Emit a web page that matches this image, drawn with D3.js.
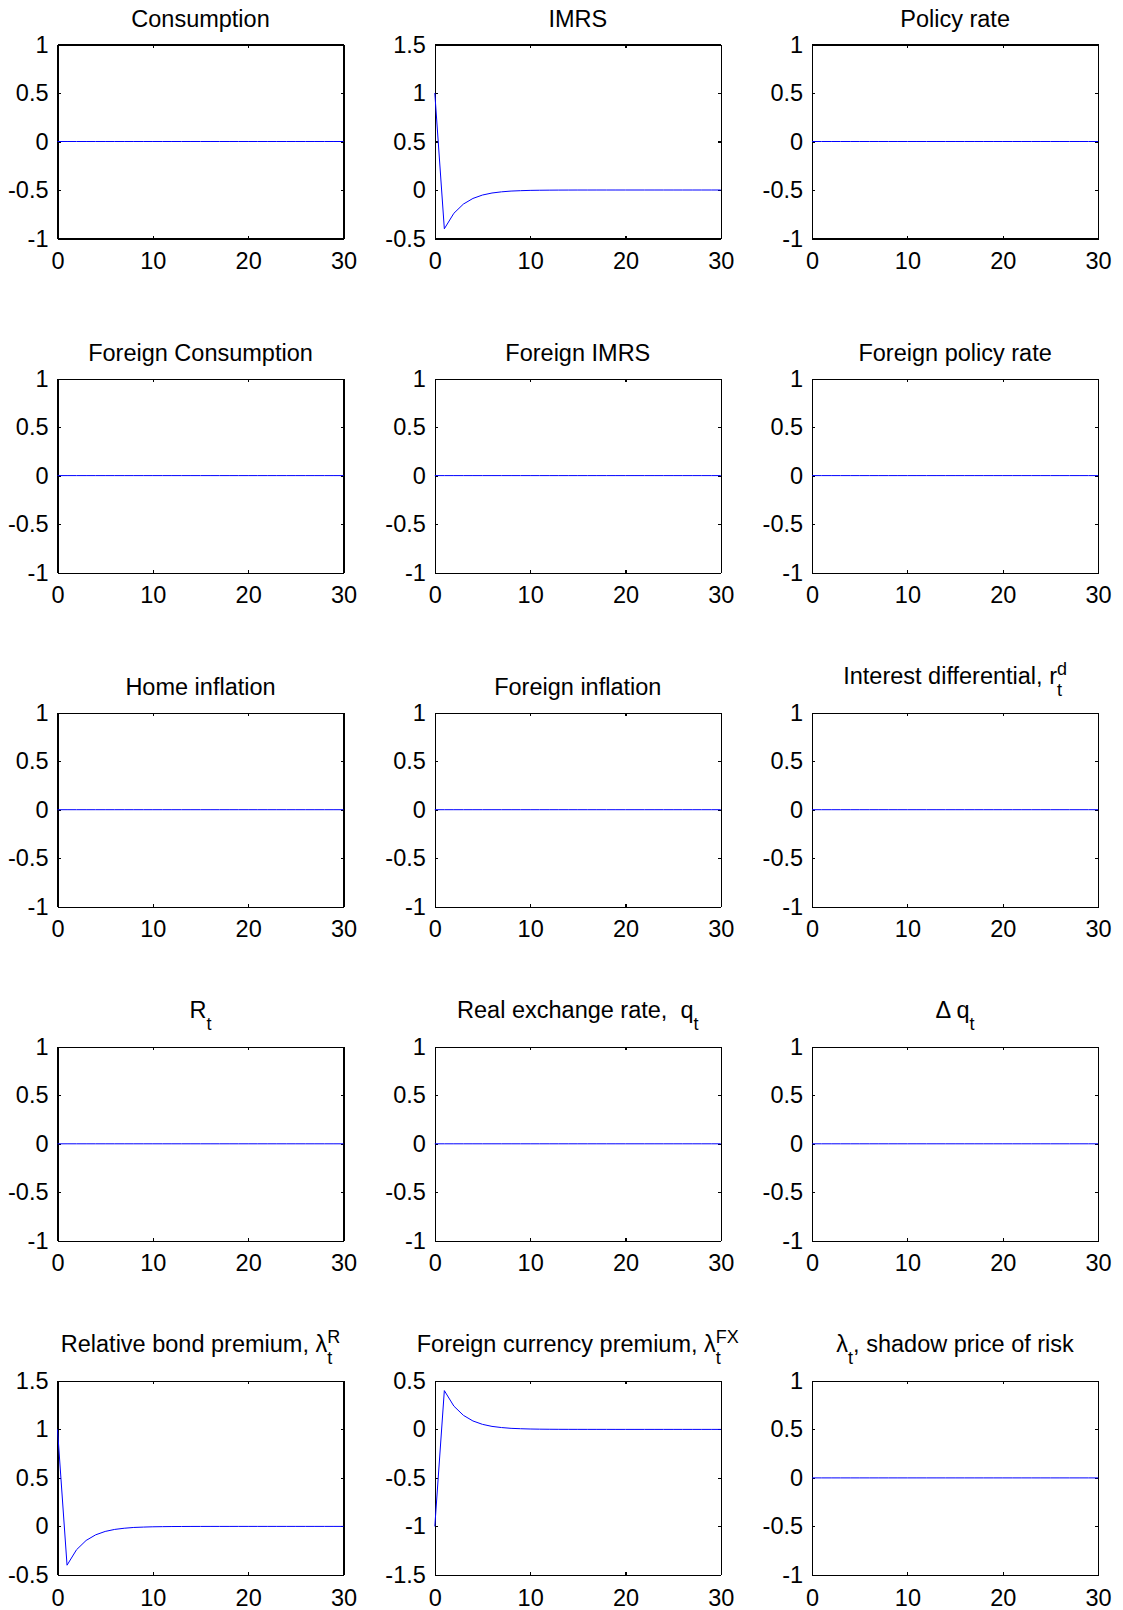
<!DOCTYPE html>
<html lang="en">

<head>
  <meta charset="UTF-8">
  <title>Impulse responses</title>
  <script src="https://d3js.org/d3.v7.min.js"></script>
  <style>
    body {
      margin: 0;
      background: #ffffff;
    }

    text {
      font-family: "Liberation Sans", Arial, Helvetica, sans-serif;
      fill: #000000;
    }

    .frame path.domain,
    .frame line {
      stroke: #000000;
      stroke-width: 1.1px;
      shape-rendering: crispEdges;
    }

    .irf {
      fill: none;
      stroke: #0000ff;
      stroke-width: 1px;
    }
  </style>
</head>

<body>
  <svg width="1123" height="1610"></svg>
  <script>
    // horizon 0..30
    const horizon = [0, 1, 2, 3, 4, 5, 6, 7, 8, 9, 10, 11, 12, 13, 14, 15, 16, 17, 18, 19, 20,
      21, 22, 23, 24, 25, 26, 27, 28, 29, 30];

    // flat responses
    const flat = [0, 0, 0, 0, 0, 0, 0, 0, 0, 0, 0, 0, 0, 0, 0, 0, 0, 0, 0, 0, 0,
      0, 0, 0, 0, 0, 0, 0, 0, 0, 0];

    // IMRS and relative bond premium
    const imrs = [1, -0.40, -0.24, -0.145, -0.087, -0.052, -0.031, -0.019, -0.011, -0.007, -0.004,
      -0.0025, -0.0015, -0.0009, -0.0005, -0.0003, -0.0002, -0.0001, -0.0001, 0, 0,
      0, 0, 0, 0, 0, 0, 0, 0, 0, 0];

    const bondPremium = [1, -0.40, -0.24, -0.145, -0.087, -0.052, -0.031, -0.019, -0.011, -0.007, -0.004,
      -0.0025, -0.0015, -0.0009, -0.0005, -0.0003, -0.0002, -0.0001, -0.0001, 0, 0,
      0, 0, 0, 0, 0, 0, 0, 0, 0, 0];

    const fxPremium = [-1, 0.40, 0.24, 0.145, 0.087, 0.052, 0.031, 0.019, 0.011, 0.007, 0.004,
      0.0025, 0.0015, 0.0009, 0.0005, 0.0003, 0.0002, 0.0001, 0.0001, 0, 0,
      0, 0, 0, 0, 0, 0, 0, 0, 0, 0];

    // panel titles: main text, subscript, superscript, trailing text
    const titles = [
      { main: "Consumption" },
      { main: "IMRS" },
      { main: "Policy rate" },
      { main: "Foreign Consumption" },
      { main: "Foreign IMRS" },
      { main: "Foreign policy rate" },
      { main: "Home inflation" },
      { main: "Foreign inflation" },
      { main: "Interest differential, r", sub: "t", sup: "d" },
      { main: "R", sub: "t" },
      { main: "Real exchange rate,\u00a0 q", sub: "t" },
      { main: "\u0394 q", sub: "t" },
      { main: "Relative bond premium, \u03bb", sub: "t", sup: "R" },
      { main: "Foreign currency premium, \u03bb", sub: "t", sup: "FX" },
      { main: "\u03bb", sub: "t", tail: ", shadow price of risk" }
    ];

    const series = [flat, imrs, flat, flat, flat, flat, flat, flat, flat,
      flat, flat, flat, bondPremium, fxPremium, flat];

    const yDomains = [[-1, 1], [-0.5, 1.5], [-1, 1], [-1, 1], [-1, 1], [-1, 1], [-1, 1], [-1, 1], [-1, 1],
      [-1, 1], [-1, 1], [-1, 1], [-0.5, 1.5], [-1.5, 0.5], [-1, 1]];

    const xTicks = [0, 10, 20, 30];

    const svg = d3.select("svg");
    const pw = 286, ph = 194;
    const left0 = 57.5, colStep = 377.3;
    const top0 = 44.5, rowStep = 334.1;
    const fontSize = 23.5, smallSize = 18;

    const x = d3.scaleLinear().domain([0, 30]).range([0, pw]);
    const fmt = d => String(d);

    titles.forEach((t, i) => {
      const col = i % 3, row = Math.floor(i / 3);
      const g = svg.append("g")
        .attr("transform", `translate(${left0 + col * colStep},${top0 + row * rowStep})`);

      const dom = yDomains[i];
      const y = d3.scaleLinear().domain(dom).range([ph, 0]);
      const yTicks = d3.range(dom[0], dom[1] + 0.001, 0.5).map(v => Math.round(v * 10) / 10);

      // frame + ticks (inside, mirrored)
      const axes = [
        d3.axisLeft(y).tickValues(yTicks).tickFormat(fmt).tickSize(-3).tickSizeOuter(0).tickPadding(9),
        d3.axisRight(y).tickValues(yTicks).tickFormat("").tickSize(-3).tickSizeOuter(0),
        d3.axisBottom(x).tickValues(xTicks).tickFormat(fmt).tickSize(-3).tickSizeOuter(0).tickPadding(14),
        d3.axisTop(x).tickValues(xTicks).tickFormat("").tickSize(-3).tickSizeOuter(0)
      ];
      const shifts = [[0, 0], [pw, 0], [0, ph], [0, 0]];
      axes.forEach((ax, k) => {
        const a = g.append("g").attr("class", "frame")
          .attr("transform", `translate(${shifts[k][0]},${shifts[k][1]})`)
          .call(ax);
        a.selectAll("text")
          .style("font-size", fontSize + "px")
          .style("font-family", '"Liberation Sans", Arial, sans-serif')
          .attr("fill", "#000");
        a.selectAll("line").attr("stroke", "#000");
        a.select(".domain").attr("stroke", "#000");
      });

      // response line
      const line = d3.line()
        .x((d, j) => x(horizon[j]))
        .y(d => y(d));
      g.append("path")
        .datum(series[i])
        .attr("class", "irf")
        .attr("d", line);

      // title with optional sub/superscripts
      const hasSub = !!t.sub;
      const baseY = hasSub ? -29 : -18;
      const tg = g.append("g");
      const mainT = tg.append("text")
        .attr("x", 0).attr("y", baseY)
        .style("font-size", fontSize + "px")
        .text(t.main);
      let w = mainT.node().getComputedTextLength();
      let extra = 0;
      if (t.sub) {
        const s = tg.append("text")
          .attr("x", w).attr("y", baseY + 12)
          .style("font-size", smallSize + "px")
          .text(t.sub);
        extra = Math.max(extra, s.node().getComputedTextLength());
      }
      if (t.sup) {
        const s = tg.append("text")
          .attr("x", w).attr("y", baseY - 9)
          .style("font-size", smallSize + "px")
          .text(t.sup);
        extra = Math.max(extra, s.node().getComputedTextLength());
      }
      w += extra;
      if (t.tail) {
        const s = tg.append("text")
          .attr("x", w).attr("y", baseY)
          .style("font-size", fontSize + "px")
          .text(t.tail);
        w += s.node().getComputedTextLength();
      }
      tg.attr("transform", `translate(${pw / 2 - w / 2},0)`);
    });
  </script>
</body>

</html>
